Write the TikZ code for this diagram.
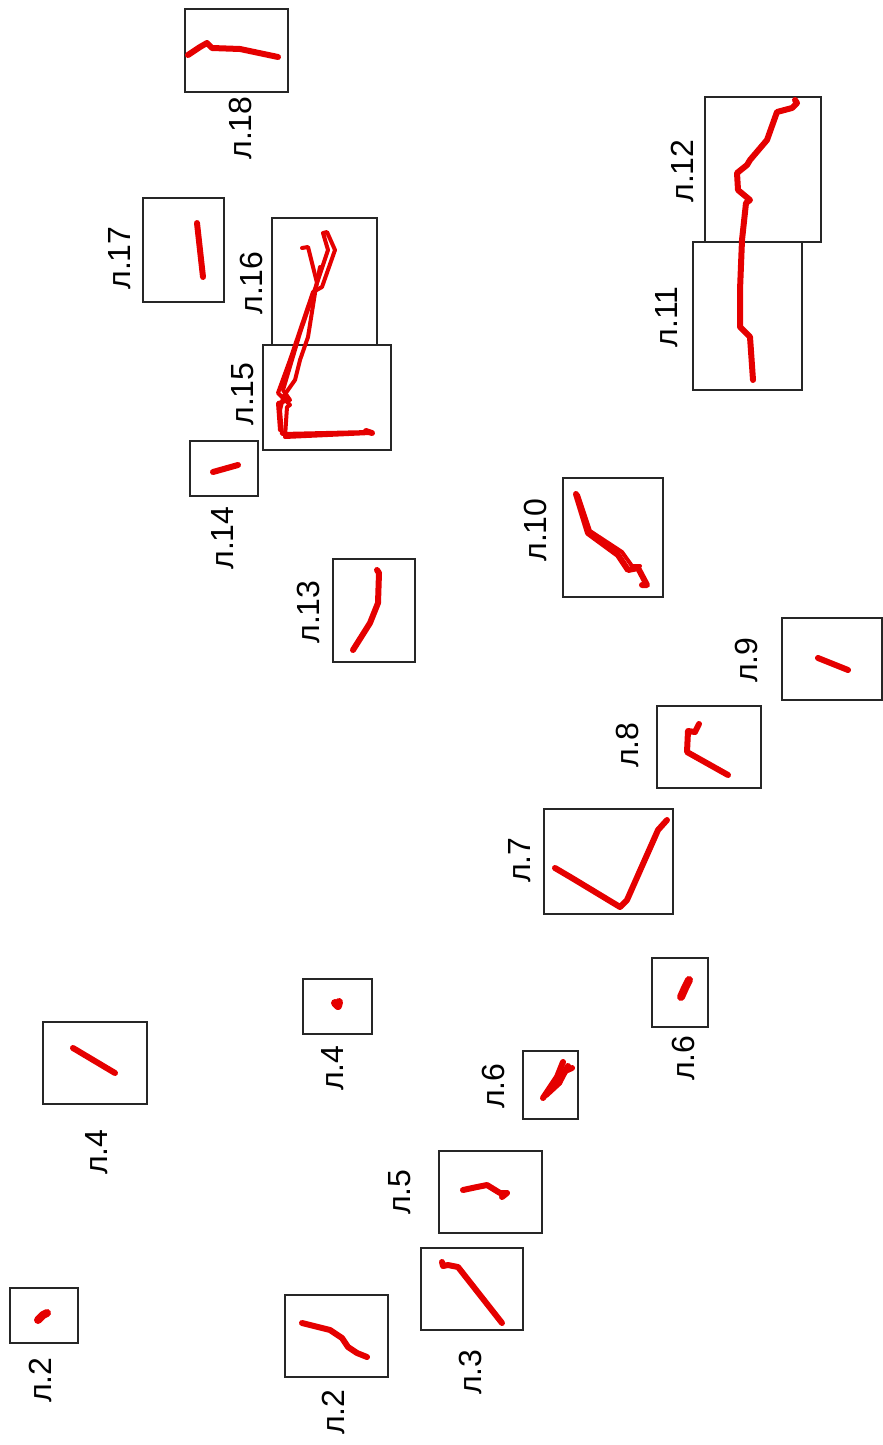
\documentclass[tikz,border=0pt]{standalone}
\usepackage{fontspec}
\setmainfont{Liberation Sans}
\begin{document}
\begin{tikzpicture}[x=0.5pt,y=-0.5pt,
  frame/.style={draw=black!85,line width=0.8pt},
  track/.style={draw=red!90!black,line width=3pt,line cap=round,line join=round},
  thin track/.style={draw=red!90!black,line width=2pt,line cap=round,line join=round},
  blob/.style={draw=red!90!black,line width=4pt,line cap=round,line join=round},
  lab/.style={rotate=90,font=\fontsize{16}{18}\selectfont,inner sep=0pt}]
\useasboundingbox (0,0) rectangle (883,1445);
% boxes
\draw[frame] (185,9) rectangle (288,92);
\draw[frame] (143,198) rectangle (224,302);
\draw[frame] (272,218) rectangle (377,345);
\draw[frame] (263,345) rectangle (391,450);
\draw[frame] (190,441) rectangle (258,496);
\draw[frame] (333,559) rectangle (415,662);
\draw[frame] (705,97) rectangle (821,242);
\draw[frame] (693,242) rectangle (802,390);
\draw[frame] (563,478) rectangle (663,597);
\draw[frame] (782,618) rectangle (882,700);
\draw[frame] (657,706) rectangle (761,788);
\draw[frame] (544,809) rectangle (673,914);
\draw[frame] (652,958) rectangle (708,1027);
\draw[frame] (523,1051) rectangle (578,1119);
\draw[frame] (303,979) rectangle (372,1034);
\draw[frame] (43,1022) rectangle (147,1104);
\draw[frame] (439,1151) rectangle (542,1233);
\draw[frame] (421,1248) rectangle (523,1330);
\draw[frame] (10,1288) rectangle (78,1343);
\draw[frame] (285,1295) rectangle (388,1377);
% labels
\node[lab] (l18) at (240,128) {л.18};
\node[lab] (l17) at (120,258) {л.17};
\node[lab] (l16) at (251,283) {л.16};
\node[lab] (l15) at (243,394) {л.15};
\node[lab] (l14) at (223,538) {л.14};
\node[lab] (l13) at (308,612) {л.13};
\node[lab] (l12) at (682,171) {л.12};
\node[lab] (l11) at (667,317) {л.11};
\node[lab] (l10) at (535,530) {л.10};
\node[lab] (l9) at (746,660) {л.9};
\node[lab] (l8) at (627,745) {л.8};
\node[lab] (l7) at (520,860) {л.7};
\node[lab] (l6a) at (683,1058) {л.6};
\node[lab] (l6b) at (493,1086) {л.6};
\node[lab] (l4a) at (333,1068) {л.4};
\node[lab] (l4b) at (97,1152) {л.4};
\node[lab] (l5) at (400,1192) {л.5};
\node[lab] (l3) at (470,1372) {л.3};
\node[lab] (l2a) at (40,1380) {л.2};
\node[lab] (l2b) at (333,1412) {л.2};
% tracks
\draw[track] (188,55) -- (200,47) -- (207,43) -- (212,48) -- (240,49) -- (278,57);
\draw[track] (197,223) -- (203,277);
\draw[thin track] (370,432) -- (282,434) -- (280,410) -- (283,398) -- (278,393) -- (290,360) -- (313,292) -- (322,287) -- (335,250) -- (327,232) -- (323,233) -- (328,250) -- (317,283) -- (308,247) -- (302,248);
\draw[thin track] (370,433) -- (285,437) -- (287,407) -- (290,405) -- (283,397) -- (295,380) -- (300,360) -- (308,337) -- (315,293) -- (320,267);
\draw[thin track] (280,430) -- (278,403) -- (290,400) -- (283,390) -- (300,333) -- (317,283);
\draw[track] (366,431) -- (372,433);
\draw[track] (213,472) -- (238,465);
\draw[track] (353,650) -- (370,623) -- (378,603) -- (379,573) -- (377,570);
\draw[track] (753,380) -- (750,337) -- (740,327) -- (740,290) -- (742,240) -- (746,203) -- (750,200) -- (738,190) -- (737,173) -- (747,165) -- (750,160) -- (767,140) -- (777,112) -- (792,108) -- (797,103) -- (795,100);
\draw[track] (576,494) -- (588,533) -- (618,555) -- (628,570) -- (638,568) -- (647,585) -- (642,585);
\draw[thin track] (578,495) -- (590,531) -- (622,552) -- (632,566) -- (640,566);
\draw[track] (818,658) -- (848,670);
\draw[track] (699,724) -- (695,732) -- (688,731) -- (687,752) -- (728,775);
\draw[track] (555,868) -- (572,878) -- (620,907) -- (627,900) -- (658,830) -- (667,820);
\draw[blob] (689,980) -- (685,988) -- (681,997);
\draw[track] (543,1098) -- (557,1077) -- (563,1062);
\draw[track] (546,1095) -- (559,1083) -- (563,1072) -- (572,1068);
\draw[track] (559,1083) -- (568,1066);
\draw[blob] (335,1003) -- (338,1006) -- (339,1002);
\draw[track] (73,1048) -- (115,1073);
\draw[track] (463,1190) -- (477,1187) -- (487,1185) -- (500,1193) -- (507,1193) -- (502,1197);
\draw[track] (442,1262) -- (443,1266) -- (448,1265) -- (458,1267) -- (502,1323);
\draw[blob] (38,1320) -- (43,1315) -- (47,1313);
\draw[track] (302,1323) -- (330,1330) -- (342,1338) -- (348,1347) -- (357,1353) -- (367,1357);
\end{tikzpicture}
\end{document}
